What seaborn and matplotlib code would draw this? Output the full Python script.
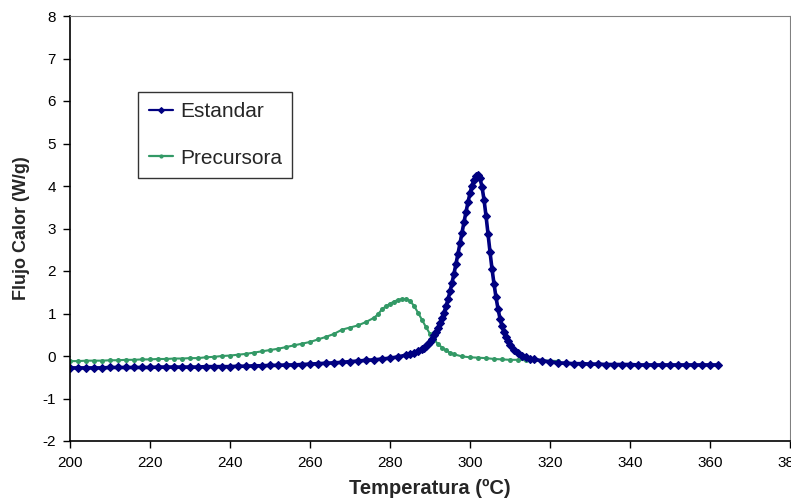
import numpy as np
import pandas as pd
import matplotlib
matplotlib.use("Agg")
import matplotlib.pyplot as plt
import seaborn as sns

sns.set_theme(style="white")
plt.rcParams["font.family"] = ["Liberation Sans", "DejaVu Sans"]
plt.rcParams["axes.unicode_minus"] = False

# ========== 数据 ==========
temp_estandar = [
    200, 202, 204, 206, 208, 210, 212, 214, 216, 218,
    220, 222, 224, 226, 228, 230, 232, 234, 236, 238,
    240, 242, 244, 246, 248, 250, 252, 254, 256, 258,
    260, 262, 264, 266, 268, 270, 272, 274, 276, 278,
    280, 282, 284, 285, 286, 287, 288, 288.5, 289, 289.5,
    290, 290.5, 291, 291.5, 292, 292.5, 293, 293.5, 294, 294.5,
    295, 295.5, 296, 296.5, 297, 297.5, 298, 298.5, 299, 299.5,
    300, 300.5, 301, 301.5, 302, 302.5, 303, 303.5, 304, 304.5,
    305, 305.5, 306, 306.5, 307, 307.5, 308, 308.5, 309, 309.5,
    310, 311, 312, 313, 314, 315, 316, 318, 320, 322,
    324, 326, 328, 330, 332, 334, 336, 338, 340, 342,
    344, 346, 348, 350, 352, 354, 356, 358, 360, 362,
]
flujo_estandar = [
    -0.28, -0.28, -0.28, -0.28, -0.28, -0.27, -0.27, -0.27, -0.27, -0.27,
    -0.27, -0.26, -0.26, -0.26, -0.26, -0.26, -0.26, -0.25, -0.25, -0.25,
    -0.25, -0.24, -0.24, -0.23, -0.23, -0.22, -0.22, -0.21, -0.21, -0.20,
    -0.19, -0.18, -0.17, -0.16, -0.15, -0.13, -0.12, -0.10, -0.09, -0.07,
    -0.05, -0.02, 0.02, 0.05, 0.08, 0.11, 0.16, 0.19, 0.23, 0.28,
    0.34, 0.41, 0.49, 0.57, 0.67, 0.77, 0.89, 1.02, 1.17, 1.33,
    1.52, 1.72, 1.94, 2.17, 2.41, 2.65, 2.90, 3.15, 3.39, 3.62,
    3.83, 4.01, 4.15, 4.24, 4.26, 4.18, 3.98, 3.68, 3.30, 2.88,
    2.45, 2.05, 1.70, 1.38, 1.11, 0.88, 0.70, 0.56, 0.44, 0.35,
    0.27, 0.15, 0.07, 0.01, -0.03, -0.06, -0.08, -0.11, -0.14, -0.16,
    -0.17, -0.18, -0.18, -0.19, -0.19, -0.20, -0.20, -0.20, -0.20, -0.21,
    -0.21, -0.21, -0.21, -0.21, -0.21, -0.21, -0.21, -0.21, -0.21, -0.21,
]

temp_precursora = [
    200, 202, 204, 206, 208, 210, 212, 214, 216, 218,
    220, 222, 224, 226, 228, 230, 232, 234, 236, 238,
    240, 242, 244, 246, 248, 250, 252, 254, 256, 258,
    260, 262, 264, 266, 268, 270, 272, 274, 276,
    277, 278, 279, 280, 281, 282, 283, 284, 285, 286,
    287, 288, 289, 290, 291, 292, 293, 294, 295, 296,
    298, 300, 302, 304, 306, 308, 310, 312, 314, 316,
    318, 320, 322,
]
flujo_precursora = [
    -0.12, -0.12, -0.11, -0.11, -0.11, -0.10, -0.10, -0.09, -0.09, -0.08,
    -0.08, -0.07, -0.07, -0.06, -0.06, -0.05, -0.05, -0.03, -0.02, 0.00,
    0.01, 0.03, 0.05, 0.08, 0.11, 0.14, 0.17, 0.21, 0.25, 0.29,
    0.33, 0.39, 0.45, 0.52, 0.62, 0.67, 0.72, 0.80, 0.90,
    0.98, 1.10, 1.17, 1.23, 1.28, 1.32, 1.34, 1.34, 1.30, 1.18,
    1.02, 0.85, 0.68, 0.52, 0.39, 0.28, 0.20, 0.13, 0.08, 0.04,
    -0.01, -0.03, -0.04, -0.05, -0.07, -0.08, -0.09, -0.09, -0.10, -0.10,
    -0.11, -0.11, -0.12,
]

series_names = ["Estandar", "Precursora"]
colors = {"Estandar": "#000080", "Precursora": "#339966"}

df = pd.concat([
    pd.DataFrame({"T": temp_estandar, "Q": flujo_estandar, "Serie": series_names[0]}),
    pd.DataFrame({"T": temp_precursora, "Q": flujo_precursora, "Serie": series_names[1]}),
], ignore_index=True)

# ========== 绘图 ==========
fig = plt.figure(figsize=(7.91, 5.0), dpi=100)
ax = fig.add_axes([70 / 791, 59 / 500, 720 / 791, 425 / 500])

sns.lineplot(data=df[df["Serie"] == "Precursora"], x="T", y="Q", ax=ax,
             color=colors["Precursora"], marker="o", markersize=3.6,
             markeredgewidth=0, linewidth=1.5, sort=False, label="Precursora")
sns.lineplot(data=df[df["Serie"] == "Estandar"], x="T", y="Q", ax=ax,
             color=colors["Estandar"], marker="D", markersize=4.0,
             markeredgewidth=0.8, markeredgecolor=colors["Estandar"],
             linewidth=2.6, sort=False, label="Estandar")

ax.set_xlim(200, 380)
ax.set_ylim(-2, 8)
ax.set_xticks(np.arange(200, 381, 20))
ax.set_yticks(np.arange(-2, 9, 1))
ax.tick_params(axis="both", direction="out", length=5, width=1, labelsize=11,
               colors="black", bottom=True, left=True)
ax.tick_params(axis="y", pad=5)
ax.tick_params(axis="x", pad=6)

for side in ["left", "bottom"]:
    ax.spines[side].set_color("black")
    ax.spines[side].set_linewidth(1.2)
for side in ["top", "right"]:
    ax.spines[side].set_color("#808080")
    ax.spines[side].set_linewidth(0.8)

ax.set_xlabel("Temperatura (ºC)", fontsize=14.5, fontweight="bold", labelpad=6)
ax.set_ylabel("Flujo Calor (W/g)", fontsize=13, fontweight="bold", labelpad=9)

handles, labels = ax.get_legend_handles_labels()
order = [labels.index("Estandar"), labels.index("Precursora")]
leg = ax.legend([handles[i] for i in order], [labels[i] for i in order],
                loc="upper left", bbox_to_anchor=(0.095, 0.821), fontsize=15,
                frameon=True, fancybox=False, edgecolor="black",
                labelspacing=1.3, handlelength=1.15, borderpad=0.5,
                borderaxespad=0, handletextpad=0.35)
leg.get_frame().set_linewidth(1.0)
for h in leg.get_lines():
    h.set_linewidth(1.6)
    h.set_markersize(3)

fig.savefig("out.png", dpi=100)
